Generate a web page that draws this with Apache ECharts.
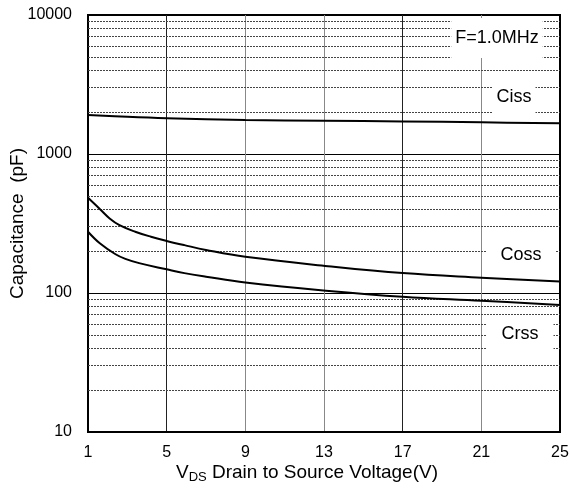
<!DOCTYPE html>
<html>
<head>
<meta charset="utf-8">
<script src="https://cdn.jsdelivr.net/npm/echarts@6/dist/echarts.min.js"></script>
<style>
  html, body { margin: 0; padding: 0; background: #fff; }
  #chart { width: 570px; height: 495px; }
</style>
</head>
<body>
<div id="chart"></div>
<script>
"use strict";

/* ---------- data ---------- */
// VDS (V) -> capacitance (pF)
const cissX = [1, 3, 5, 9, 13, 17, 21, 25];
const cissY = [1909, 1850, 1808, 1757, 1735, 1716, 1690, 1663];

const cossX = [1, 1.6, 2.1, 2.6, 3.4, 4.2, 5, 5.9, 7, 9, 13.2, 17, 21, 25];
const cossY = [485, 402, 344, 308, 276, 254, 237, 221, 204, 182, 156, 139, 129, 121];

const crssX = [1, 1.6, 2.4, 2.9, 3.6, 5, 5.9, 7, 9, 13.1, 17, 21, 25];
const crssY = [276, 228, 190, 176, 164, 148, 139, 131, 119, 104, 94, 88, 82];

// dashed minor grid: 2..9 of every decade
const minorGrid = [20, 30, 40, 50, 60, 70, 80, 90,
    200, 300, 400, 500, 600, 700, 800, 900,
    2000, 3000, 4000, 5000, 6000, 7000, 8000, 9000];

const FONT = '"Liberation Sans", Arial, sans-serif';

const pairs = (xs, ys) => xs.map((x, i) => [x, ys[i]]);

function curve(name, xs, ys) {
    return {
        name: name, type: "line", data: pairs(xs, ys),
        smooth: 0.4, showSymbol: false, silent: true,
        lineStyle: { color: "#000", width: 2 }, z: 5
    };
}

// label with white box that hides the grid behind it
function tag(text, x, y, pad) {
    return {
        type: "text", x: x, y: y, z: 100,
        style: {
            text: text, fill: "#000", font: "18px " + FONT,
            align: "center", verticalAlign: "middle",
            backgroundColor: "#fff", padding: pad
        }
    };
}

const chart = echarts.init(document.getElementById("chart"));
chart.setOption({
    animation: false,
    textStyle: { fontFamily: FONT },
    grid: {
        left: 88, right: 10, top: 15, bottom: 63,
        outerBoundsMode: "none",
        show: true, borderColor: "#000", borderWidth: 2
    },
    xAxis: {
        type: "value", min: 1, max: 25, interval: 4,
        axisLine: { lineStyle: { color: "#000", width: 2 } },
        axisTick: { show: false },
        axisLabel: { color: "#000", fontSize: 16, margin: 13 },
        splitLine: {
            lineStyle: { color: ["#000", "#222", "#888", "#888", "#222", "#888", "#000"], width: 1 }
        },
        name: "{v|V}{s|DS}{t| Drain to Source Voltage(V)}",
        nameLocation: "middle", nameGap: 30, nameMoveOverlap: false,
        nameTextStyle: {
            padding: [0, 34, 0, 0],
            rich: {
                v: { fontSize: 19, color: "#000" },
                s: { fontSize: 13, color: "#000", padding: [9, 0, 0, 0] },
                t: { fontSize: 19, color: "#000" }
            }
        }
    },
    yAxis: {
        type: "log", logBase: 10, min: 10, max: 10000,
        axisLine: { lineStyle: { color: "#000", width: 2 } },
        axisTick: { show: false },
        axisLabel: { color: "#000", fontSize: 16, margin: 16, formatter: v => String(v) },
        splitLine: { lineStyle: { color: "#000", width: 1 } },
        name: "Capacitance  (pF)",
        nameLocation: "middle", nameGap: 61, nameMoveOverlap: false,
        nameTextStyle: { fontSize: 19, color: "#000" }
    },
    series: [
        Object.assign(curve("Ciss", cissX, cissY), {
            markLine: {
                silent: true, symbol: "none", animation: false,
                label: { show: false },
                lineStyle: { color: "#444", width: 1, type: [2, 1] },
                data: minorGrid.map(v => ({ yAxis: v }))
            }
        }),
        curve("Coss", cossX, cossY),
        curve("Crss", crssX, crssY)
    ],
    graphic: [
        tag("F=1.0MHz", 497, 38, [14, 4, 8, 4]),
        tag("Ciss", 514, 97, [11, 4, 9, 4]),
        tag("Coss", 521, 255, [8, 14, 8, 14]),
        tag("Crss", 520, 334, [9, 15, 9, 15])
    ]
});
</script>
</body>
</html>
